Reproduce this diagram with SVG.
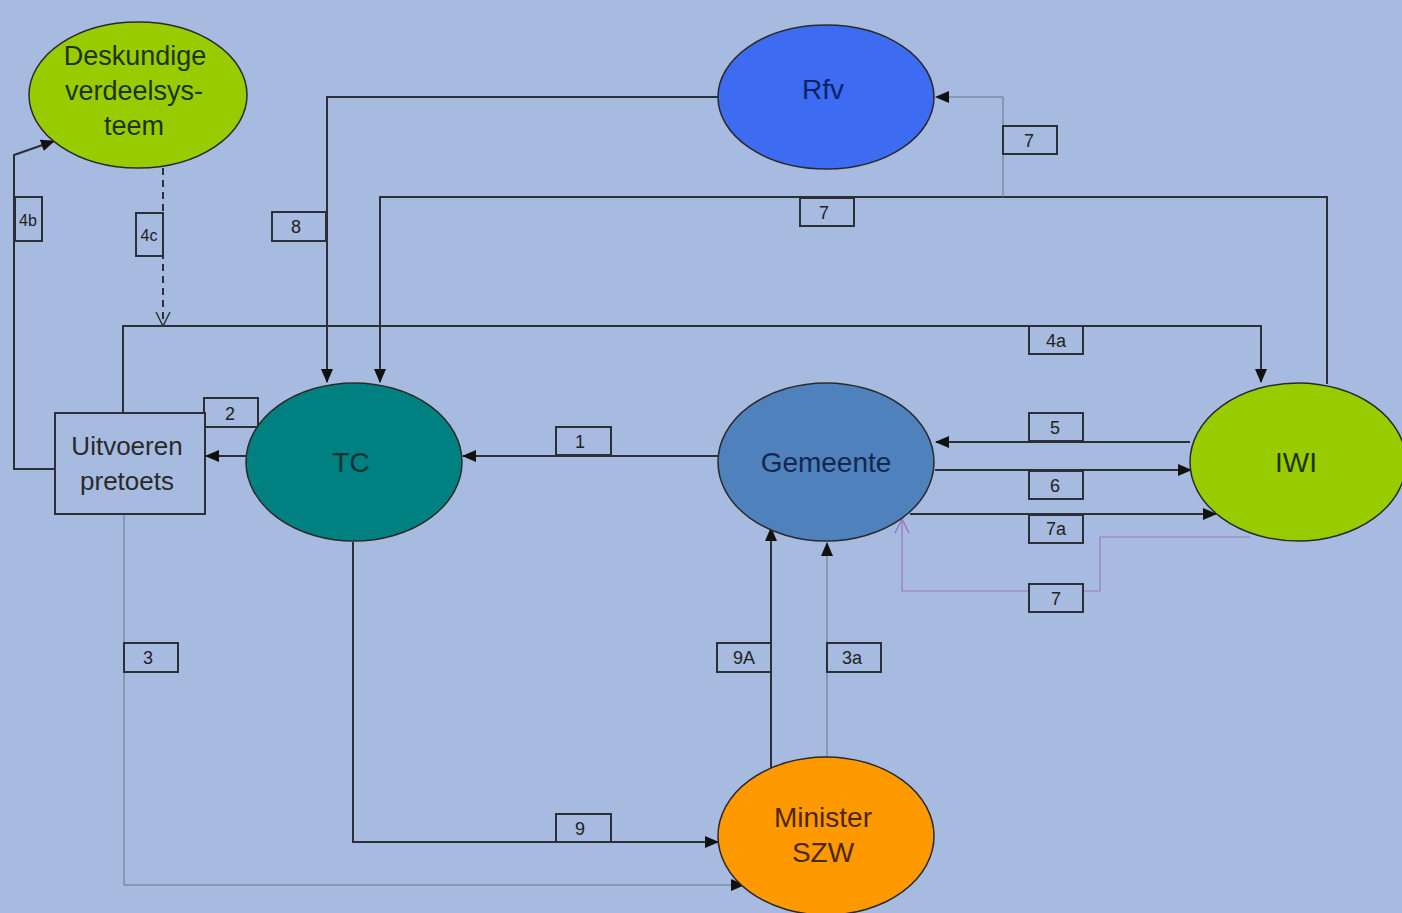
<svg xmlns="http://www.w3.org/2000/svg" width="1402" height="913" viewBox="0 0 1402 913">
<style>
.node{stroke:#2a2a2a;stroke-width:1.5}
.nt{font-family:"Liberation Sans",Arial,sans-serif;font-size:28px;text-anchor:middle}
.ln{fill:none;stroke:#2b2f38;stroke-width:2}
.thin{fill:none;stroke:#69768e;stroke-width:1}
.lbl rect{fill:#a7badf;stroke:#2b2f38;stroke-width:2}
.lbl text{font-family:"Liberation Sans",Arial,sans-serif;font-size:18px;fill:#222;text-anchor:middle}
</style>
<defs>
<marker id="arr" markerUnits="userSpaceOnUse" markerWidth="14" markerHeight="12" refX="13" refY="6" orient="auto">
<path d="M0,0 L14,6 L0,12 Z" fill="#111"/>
</marker>
<marker id="open" markerUnits="userSpaceOnUse" markerWidth="16" markerHeight="16" refX="15" refY="8" orient="auto">
<path d="M1,1 L15,8 L1,15" fill="none" stroke="#333" stroke-width="1.5"/>
</marker>
<marker id="openp" markerUnits="userSpaceOnUse" markerWidth="16" markerHeight="16" refX="15" refY="8" orient="auto">
<path d="M1,1 L15,8 L1,15" fill="none" stroke="#9a7ab8" stroke-width="1.5"/>
</marker>
</defs>
<rect width="1402" height="913" fill="#a7badf"/>

<g id="connectors">
<path class="ln" d="M718,456 L463,456" marker-end="url(#arr)"/>
<path class="ln" d="M246,456 L206,456" marker-end="url(#arr)"/>
<path class="ln" d="M55,469 L14,469 L14,155 L54,141" marker-end="url(#arr)"/>
<path class="ln" d="M163,168 L163,326" stroke-dasharray="7,5" marker-end="url(#open)"/>
<path class="ln" d="M123,413 L123,326 L1261,326 L1261,382" marker-end="url(#arr)"/>
<path class="ln" d="M718,97 L327,97 L327,382" marker-end="url(#arr)"/>
<path class="ln" d="M1327,384 L1327,197 L380,197 L380,382" marker-end="url(#arr)"/>
<path class="thin" d="M1003,197 L1003,97 L936,97" marker-end="url(#arr)"/>
<path class="ln" d="M1190,442 L936,442" marker-end="url(#arr)"/>
<path class="ln" d="M935,470 L1191,470" marker-end="url(#arr)"/>
<path class="ln" d="M910,514 L1216,514" marker-end="url(#arr)"/>
<path fill="none" stroke="#9a7ab8" stroke-width="1.2" d="M1250,537 L1100,537 L1100,591 L902,591 L902,519" marker-end="url(#openp)"/>
<path class="ln" d="M771,770 L771,528" marker-end="url(#arr)"/>
<path class="thin" d="M827,757 L827,543" marker-end="url(#arr)"/>
<path class="ln" d="M353,542 L353,842 L718,842" marker-end="url(#arr)"/>
<path class="thin" d="M124,514 L124,885 L744,885" marker-end="url(#arr)"/>
</g>

<g id="labels">
<g class="lbl"><rect x="15" y="197" width="27" height="44"/><text x="28" y="226" style="font-size:16px">4b</text></g>
<g class="lbl"><rect x="136" y="213" width="27" height="43"/><text x="149" y="241" style="font-size:16px">4c</text></g>
<g class="lbl"><rect x="272" y="212" width="54" height="29"/><text x="296" y="233">8</text></g>
<g class="lbl"><rect x="1003" y="126" width="54" height="28"/><text x="1029" y="147">7</text></g>
<g class="lbl"><rect x="800" y="198" width="54" height="28"/><text x="824" y="219">7</text></g>
<g class="lbl"><rect x="1029" y="326" width="54" height="28"/><text x="1056" y="347">4a</text></g>
<g class="lbl"><rect x="204" y="398" width="54" height="29"/><text x="230" y="420">2</text></g>
<g class="lbl"><rect x="556" y="427" width="55" height="28"/><text x="580" y="448">1</text></g>
<g class="lbl"><rect x="1029" y="413" width="54" height="28"/><text x="1055" y="434">5</text></g>
<g class="lbl"><rect x="1029" y="471" width="54" height="28"/><text x="1055" y="492">6</text></g>
<g class="lbl"><rect x="1029" y="515" width="54" height="28"/><text x="1056" y="535">7a</text></g>
<g class="lbl"><rect x="1029" y="584" width="54" height="28"/><text x="1056" y="605">7</text></g>
<g class="lbl"><rect x="717" y="643" width="54" height="29"/><text x="744" y="664">9A</text></g>
<g class="lbl"><rect x="827" y="643" width="54" height="29"/><text x="852" y="664">3a</text></g>
<g class="lbl"><rect x="124" y="643" width="54" height="29"/><text x="148" y="664">3</text></g>
<g class="lbl"><rect x="556" y="814" width="55" height="28"/><text x="580" y="835">9</text></g>
</g>

<g id="deskundige">
<ellipse class="node" cx="138" cy="95" rx="109" ry="73" fill="#99cc00"/>
<text class="nt" fill="#1f3300" style="font-size:27px"><tspan x="135" y="65">Deskundige</tspan><tspan x="134" y="100">verdeelsys-</tspan><tspan x="134" y="135">teem</tspan></text>
</g>
<g id="rfv">
<ellipse class="node" cx="826" cy="97" rx="108" ry="72" fill="#3d6cf2"/>
<text class="nt" x="823" y="99" fill="#0d2266">Rfv</text>
</g>
<g id="uitvoeren">
<rect x="55" y="413" width="150" height="101" fill="#a7badf" stroke="#2b2f38" stroke-width="2"/>
<text class="nt" style="font-size:26px" fill="#2a2a2a"><tspan x="127" y="455">Uitvoeren</tspan><tspan x="127" y="490">pretoets</tspan></text>
</g>
<g id="tc">
<ellipse class="node" cx="354" cy="462" rx="108" ry="79" fill="#008080"/>
<text class="nt" x="351" y="472" fill="#0d3333">TC</text>
</g>
<g id="gemeente">
<ellipse class="node" cx="826" cy="462" rx="108" ry="79" fill="#4f81bd"/>
<text class="nt" x="826" y="472" fill="#14284f">Gemeente</text>
</g>
<g id="iwi">
<ellipse class="node" cx="1298" cy="462" rx="108" ry="79" fill="#99cc00"/>
<text class="nt" x="1296" y="472" fill="#1f3300">IWI</text>
</g>
<g id="minister">
<ellipse class="node" cx="826" cy="836" rx="108" ry="79" fill="#ff9900"/>
<text class="nt" fill="#4d2600"><tspan x="823" y="827">Minister</tspan><tspan x="823" y="862">SZW</tspan></text>
</g>
</svg>
